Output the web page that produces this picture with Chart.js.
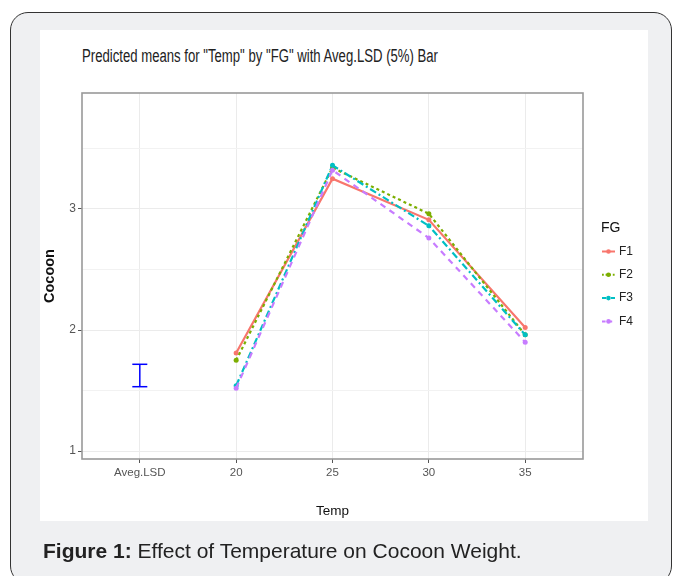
<!DOCTYPE html>
<html>
<head>
<meta charset="utf-8">
<script src="https://cdn.jsdelivr.net/npm/chart.js@4"></script>
<style>
  html, body { margin: 0; padding: 0; background: #fff; }
  #wrap { position: relative; width: 673px; height: 576px; overflow: hidden; }
  #box { position: absolute; left: 10px; top: 12px; width: 662px; height: 572px;
         box-sizing: border-box; border: 1.5px solid #333; border-radius: 18px; background: #eff0f2; }
  #panel { position: absolute; left: 40px; top: 30px; width: 608px; height: 491px; background: #fff; }
  #title { position: absolute; left: 82px; top: 46px; font: 18px "Liberation Sans Narrow", "Liberation Sans", Arial, sans-serif;
           color: #222; white-space: nowrap; transform-origin: 0 0; }
  #caption { position: absolute; left: 43px; top: 539px; font: 21px "Liberation Sans", Arial, sans-serif;
             color: #222; white-space: nowrap; }
  canvas { position: absolute; left: 0; top: 0; }
</style>
</head>
<body>
<div id="wrap">
  <div id="box"></div>
  <div id="panel"></div>
  <div id="title">Predicted means for "Temp" by "FG" with Aveg.LSD (5%) Bar</div>
  <canvas id="grafico" width="673" height="576"></canvas>
  <div id="caption"><b>Figure 1:</b> Effect of Temperature on Cocoon Weight.</div>
</div>
<script>
// categorias do eixo x (a primeira e a barra LSD)
const categorias = ["Aveg.LSD", "20", "25", "30", "35"];
const temps = ["20", "25", "30", "35"];
const grupos = ["F1", "F2", "F3", "F4"];

// medias previstas por grupo FG
const f1 = [1.81, 3.25, 2.91, 2.02];
const f2 = [1.75, 3.34, 2.96, 1.96];
const f3 = [1.54, 3.36, 2.86, 1.96];
const f4 = [1.52, 3.32, 2.76, 1.90];

// barra LSD media (5%)
const lsdBarra = [1.532, 1.717];

const yTicks = [1, 2, 3];
const yMenores = [1.5, 2.5, 3.5];

const series = [f1, f2, f3, f4];
const cores = ["#F8766D", "#7CAE00", "#00BFC4", "#C77CFF"];
const tracos = [[], [3, 3], [7, 3, 2, 3], [6, 5]];

const fonteNarrow = '"Liberation Sans Narrow", "Liberation Sans", Arial, sans-serif';

// ajusta o titulo na largura do original
(function() {
  const el = document.getElementById("title");
  const w = el.getBoundingClientRect().width;
  el.style.transform = "scaleX(" + (356 / w) + ")";
})();

const datasets = series.map((valores, i) => ({
  label: grupos[i],
  data: valores.map((v, j) => ({ x: categorias.indexOf(temps[j]) + 1, y: v })),
  borderColor: cores[i],
  backgroundColor: cores[i],
  borderWidth: 2.2,
  borderDash: tracos[i],
  pointRadius: 2.5,
  pointBorderWidth: 0,
  pointBackgroundColor: cores[i],
  order: 4 - i,
  tension: 0
}));

datasets.push({
  label: "LSD",
  data: lsdBarra.map(v => ({ x: 1, y: v })),
  borderColor: "#0000FF",
  backgroundColor: "#0000FF",
  borderWidth: 1.5,
  pointStyle: "line",
  pointRadius: 7.5,
  pointBorderWidth: 1.5,
  pointBorderColor: "#0000FF",
  order: 0
});

// moldura do painel e legenda FG
const extras = {
  id: "extras",
  afterDatasetsDraw(chart) {
    const { ctx, chartArea: a } = chart;
    ctx.save();
    ctx.strokeStyle = "#999";
    ctx.lineWidth = 1.6;
    ctx.strokeRect(a.left, a.top, a.right - a.left, a.bottom - a.top);

    ctx.fillStyle = "#111";
    ctx.font = "14px " + fonteNarrow;
    ctx.textBaseline = "middle";
    ctx.textAlign = "left";
    ctx.fillText("FG", 601, 228);

    ctx.font = "12px " + fonteNarrow;
    grupos.forEach((g, i) => {
      const y = 251.5 + i * 23.3;
      ctx.strokeStyle = cores[i];
      ctx.lineWidth = 2;
      ctx.setLineDash(tracos[i].length ? tracos[i].map(d => d * 0.6) : []);
      ctx.beginPath();
      ctx.moveTo(602, y);
      ctx.lineTo(615, y);
      ctx.stroke();
      ctx.setLineDash([]);
      ctx.fillStyle = cores[i];
      ctx.beginPath();
      ctx.arc(608.5, y, 2.3, 0, Math.PI * 2);
      ctx.fill();
      ctx.fillStyle = "#222";
      ctx.fillText(g, 619, y);
    });
    ctx.restore();
  }
};

new Chart(document.getElementById("grafico"), {
  type: "line",
  data: { datasets: datasets },
  options: {
    responsive: false,
    animation: false,
    layout: { padding: { top: 93, right: 90, left: 0, bottom: 0 } },
    plugins: { legend: { display: false }, tooltip: { enabled: false } },
    scales: {
      x: {
        type: "linear",
        min: 0.4,
        max: 5.6,
        afterBuildTicks: s => { s.ticks = categorias.map((c, i) => ({ value: i + 1 })); },
        afterFit: s => { s.height = 117; },
        grid: { color: "#ebebeb", lineWidth: 1, tickColor: "#555", tickLength: 4 },
        border: { display: false },
        ticks: {
          autoSkip: false, maxRotation: 0, padding: 3, color: "#555",
          font: { family: fonteNarrow, size: 11.5 },
          callback: (v, i) => categorias[i]
        },
        title: {
          display: true, text: "Temp", color: "#111",
          font: { family: fonteNarrow, size: 13.5 },
          padding: { top: 0, bottom: 56.8 }
        }
      },
      y: {
        type: "linear",
        min: 0.935,
        max: 3.957,
        afterBuildTicks: s => { s.ticks = yTicks.concat(yMenores).sort().map(v => ({ value: v })); },
        afterFit: s => { s.width = 82; },
        grid: {
          color: c => yTicks.includes(c.tick && c.tick.value) ? "#ebebeb" : "#f2f2f2",
          tickColor: c => yTicks.includes(c.tick && c.tick.value) ? "#555" : "rgba(0,0,0,0)",
          lineWidth: 1, tickLength: 4
        },
        border: { display: false },
        ticks: {
          padding: 2, color: "#555",
          font: { family: fonteNarrow, size: 12 },
          callback: v => yTicks.includes(v) ? String(v) : ""
        },
        title: {
          display: true, text: "Cocoon", color: "#111",
          font: { family: '"Liberation Sans", Arial, sans-serif', size: 14.5, weight: "bold" },
          padding: { top: 41.3, bottom: 0 }
        }
      }
    }
  },
  plugins: [extras]
});
</script>
</body>
</html>
